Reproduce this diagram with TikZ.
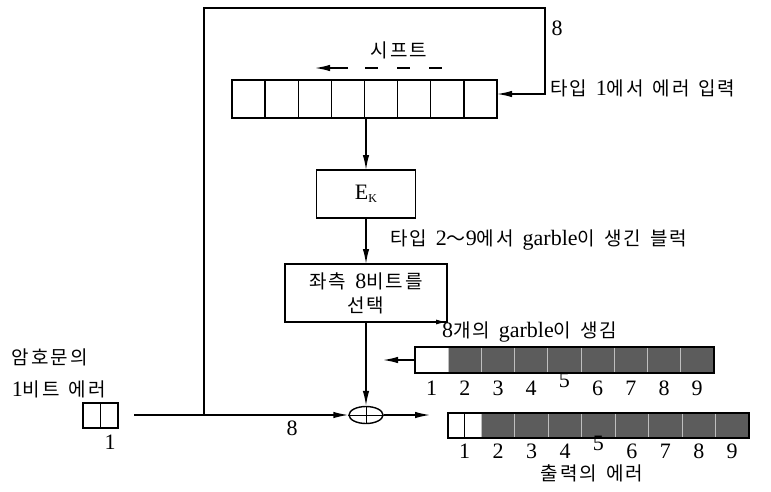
\documentclass[tikz,border=0pt]{standalone}
\usepackage{fontspec}
\setmainfont{Liberation Serif}
\newfontfamily\kofont[LetterSpace=10]{Noto Sans CJK KR}
\usetikzlibrary{arrows.meta,shapes.geometric,calc}
\newcommand\ko[1]{{\kofont\fontsize{19}{21}\selectfont #1}}
\newcommand\gap{\hspace{9pt}}
\begin{document}
\begin{tikzpicture}[x=1pt,y=-1pt, line width=1.4pt,
  arr/.style={-{Latex[length=15pt,width=6.5pt]}},
  box/.style={draw, line width=1.4pt, inner sep=0pt, outer sep=0pt},
  gcell/.style={fill=black!64, draw=black!25, line width=1pt, inner sep=0pt, outer sep=0pt},
  txt/.style={inner sep=0pt, outer sep=0pt},
  every node/.style={font=\fontsize{22}{24}\selectfont}]
\useasboundingbox (0,0) rectangle (771,491);

% shift register
\foreach \i in {1,...,8}
  \node[box, minimum width=33.125pt, minimum height=38pt] (r\i) at ({232+33.125*(\i-0.5)},99) {};

% E_K
\node[box, minimum width=99pt, minimum height=48pt] (ek) at (366,194) {E\raisebox{-3pt}{\fontsize{12}{12}\selectfont K}};

% select box
\node[box, minimum width=162pt, minimum height=58pt, align=center] (sel) at (366,293)
  {\ko{좌측}\gap 8\ko{비트를}\\\ko{선택}};

% xor
\node[draw, ellipse, minimum width=34pt, minimum height=17pt, inner sep=0pt] (xor) at (366,415) {};
\draw[line width=1pt] (xor.north) -- (xor.south) (xor.west) -- (xor.east);

% source bit box
\node[box, minimum width=35pt, minimum height=25pt] (src) at (100.5,415.5) {};
\draw (src.north) -- (src.south);

% row 1
\node[box, fill=white, minimum width=33.2pt, minimum height=26pt] (a1) at ({415+33.2*0.5},360) {};
\foreach \i in {2,...,9}
  \node[gcell, minimum width=33.2pt, minimum height=26pt] (a\i) at ({415+33.2*(\i-0.5)},360) {};
\draw (a1.north west) rectangle (a9.south east);

% row 2
\node[box, fill=white, minimum width=33.44pt, minimum height=25pt] (b1) at ({448+33.44*0.5},425.5) {};
\draw (b1.north) -- (b1.south);
\foreach \i in {2,...,9}
  \node[gcell, minimum width=33.44pt, minimum height=25pt] (b\i) at ({448+33.44*(\i-0.5)},425.5) {};
\draw (b1.north west) rectangle (b9.south east);

% numbers
\foreach \i/\d in {1/15,2/15,3/15,4/15,5/7,6/15,7/15,8/15,9/15}
  \node[txt] (na\i) at ($(a\i.south)+(0,\d)$) {\i};
\foreach \i/\d in {1/13,2/13,3/13,4/13,5/5,6/13,7/13,8/13,9/13}
  \node[txt] (nb\i) at ($(b\i.south)+(0,\d)$) {\i};

% labels
\node[txt] (lshift) at (399,50) {\ko{시프트}};
\node[txt, anchor=west] (lin1) at (550,88) {\ko{타입}\gap 1\ko{에서}\gap\ko{에러}\gap\ko{입력}};
\node[txt, anchor=west] (lgar) at (390,240) {\ko{타입}\gap 2\ko{～}9\ko{에서}\gap garble\ko{이}\gap\ko{생긴}\gap\ko{블럭}};
\node[txt, anchor=west] (l8g) at (442,332) {8\ko{개의}\gap garble\ko{이}\gap\ko{생김}};
\node[txt, anchor=west] (lc1) at (12,357) {\ko{암호문의}};
\node[txt, anchor=west] (lc2) at (12,389) {1\ko{비트}\gap\ko{에러}};
\node[txt] (lout) at (592,473) {\ko{출력의}\gap\ko{에러}};
\node[txt] (n8a) at (557,28) {8};
\node[txt] (n8b) at (292,428) {8};
\node[txt] (n1s) at (110,442) {1};

% connectors
\coordinate (inS) at (134,415);
\coordinate (jn) at (204,415);
\coordinate (tl) at (204,8);
\coordinate (tr) at (545,8);
\coordinate (rin) at (545,94);
\draw[arr] (inS) -- (xor.west);
\draw[arr] (jn) -- (tl) -- (tr) -- (rin) -- (r8.east |- rin);
\draw[arr] (ek.north |- r5.south) -- (ek.north);
\draw[arr] (ek) -- (sel);
\draw[arr] (sel) -- (xor);
\coordinate (r2tip) at (430,415);
\draw[arr] (xor.east) -- (r2tip);
\coordinate (r1tip) at (383,360);
\draw[arr] (a1.west) -- (r1tip);
\draw[-{Latex[length=11pt,width=5pt]}] ($(sel.south east)+(-14,0)$) -- (sel.south east);

% shift arrow
\coordinate (shtip) at (315,68);
\coordinate (shA) at (348,68);
\coordinate (shB) at (365,68);
\coordinate (shC) at (445,68);
\draw[arr] (shA) -- (shtip);
\draw[dash pattern=on 13pt off 19pt] (shB) -- (shC);
\end{tikzpicture}
\end{document}
